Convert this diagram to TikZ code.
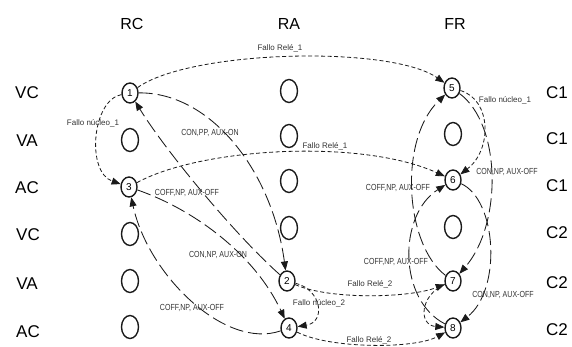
\documentclass[tikz,border=0pt]{standalone}
\usepackage{fontspec}
\setmainfont{Liberation Sans}
\newfontfamily\narrowfont[FakeStretch=0.8]{Liberation Sans}
\usetikzlibrary{arrows.meta,shapes.geometric}
\definecolor{ink}{HTML}{1A1A1A}
\definecolor{lblgrey}{HTML}{333333}
\begin{document}
\begin{tikzpicture}[x=1pt,y=-1pt,
  state/.style={ellipse,draw=ink,line width=1.4pt,inner sep=0pt,
    minimum width=16pt,minimum height=20pt,font=\fontsize{10}{10}\selectfont},
  blank/.style={state,minimum width=17pt,minimum height=23pt},
  rowlbl/.style={font=\fontsize{17}{17}\selectfont},
  head/.style={font=\fontsize{16}{16}\selectfont},
  flbl/.style={font=\fontsize{8}{8}\selectfont,text=lblgrey,inner sep=0.5pt},
  clbl/.style={font=\narrowfont\fontsize{8.8}{8.8}\selectfont,text=lblgrey,inner sep=0.5pt},
  tip/.style={-{Triangle[length=9pt,width=7pt]}},
  fault/.style={tip,draw=ink,line width=0.8pt,dash pattern=on 4pt off 2.5pt},
  ctrl/.style={tip,draw=ink,line width=0.85pt,dash pattern=on 14pt off 5pt},
]
\useasboundingbox (0,0) rectangle (572,347);

% column headings
\node[head] (hRC) at (132,24) {RC};
\node[head] (hRA) at (289,24) {RA};
\node[head] (hFR) at (455,24) {FR};

% row labels, left
\node[rowlbl] (r1) at (27,93) {VC};
\node[rowlbl] (r2) at (27,141) {VA};
\node[rowlbl] (r3) at (27,188) {AC};
\node[rowlbl] (r4) at (28,235) {VC};
\node[rowlbl] (r5) at (27,284) {VA};
\node[rowlbl] (r6) at (28,332) {AC};

% row labels, right
\node[rowlbl] (c1) at (557,93) {C1};
\node[rowlbl] (c2) at (557,139) {C1};
\node[rowlbl] (c3) at (557,186) {C1};
\node[rowlbl] (c4) at (557,233) {C2};
\node[rowlbl] (c5) at (557,283) {C2};
\node[rowlbl] (c6) at (557,330) {C2};

% states, column RC
\node[state] (s1) at (130,93) {1};
\node[blank] (b12) at (130,140) {};
\node[state] (s3) at (129,187) {3};
\node[blank] (b14) at (130,234) {};
\node[blank] (b15) at (130,281) {};
\node[blank] (b16) at (130,327) {};
% states, column RA
\node[blank] (b21) at (289,91) {};
\node[blank] (b22) at (289,136) {};
\node[blank] (b23) at (289,181) {};
\node[blank] (b24) at (289,228) {};
\node[state] (s2) at (287,281) {2};
\node[state] (s4) at (289,328) {4};
% states, column FR
\node[state] (s5) at (452,88) {5};
\node[blank] (b32) at (453,134) {};
\node[state] (s6) at (453,180) {6};
\node[blank] (b34) at (453,227) {};
\node[state] (s7) at (453,281) {7};
\node[state] (s8) at (453,328) {8};

% fault transitions
\draw[fault] (s1) .. controls (190,50) and (390,45) .. (s5);
\node[flbl] (l1) at (280,48) {Fallo Relé\_1};
\draw[fault] (s1) .. controls (92,100) and (86,172) .. (s3);
\node[flbl] (l2) at (93,123) {Fallo núcleo\_1};
\draw[fault] (s3) .. controls (200,148) and (360,138) .. (s6);
\node[flbl] (l3) at (325,146) {Fallo Relé\_1};
\draw[fault] (s2) .. controls (322,290) and (326,322) .. (s4);
\node[flbl] (l4) at (319,303) {Fallo núcleo\_2};
\draw[fault] (s2) .. controls (330,300) and (410,298) .. (s7);
\node[flbl] (l5) at (370,284) {Fallo Relé\_2};
\draw[fault] (s4) .. controls (330,349) and (415,349) .. (s8);
\node[flbl] (l6) at (369,340) {Fallo Relé\_2};
\draw[fault] (s5) .. controls (492,100) and (492,150) .. (s6);
\node[flbl] (l7) at (505,100) {Fallo núcleo\_1};
\draw[fault] (s7) .. controls (420,295) and (418,325) .. (s8);

% switching transitions
\draw[ctrl] (s1) .. controls (210,92) and (272,170) .. (s2);
\node[clbl] (k1) at (210,133) {CON,PP, AUX-ON};
\draw[ctrl] (s2) .. controls (235,235) and (165,150) .. (s1);
\node[clbl] (k2) at (187,193) {COFF,NP, AUX-OFF};
\draw[ctrl] (s3) .. controls (195,210) and (255,255) .. (s4);
\node[clbl] (k3) at (218,255) {CON,NP, AUX-ON};
\draw[ctrl] (s4) .. controls (225,350) and (148,275) .. (s3);
\node[clbl] (k4) at (192,308) {COFF,NP, AUX-OFF};
\draw[ctrl] (s5) .. controls (502,125) and (502,225) .. (s7);
\node[clbl] (k5) at (507,172) {CON,NP, AUX-OFF};
\draw[ctrl] (s6) .. controls (497,200) and (502,290) .. (s8);
\node[clbl] (k6) at (503,295) {CON,NP, AUX-OFF};
\draw[ctrl] (s7) .. controls (405,245) and (398,140) .. (s5);
\node[clbl] (k7) at (398,188) {COFF,NP, AUX-OFF};
\draw[ctrl] (s8) .. controls (398,300) and (398,215) .. (s6);
\node[clbl] (k8) at (396,262) {COFF,NP, AUX-OFF};
\end{tikzpicture}
\end{document}
